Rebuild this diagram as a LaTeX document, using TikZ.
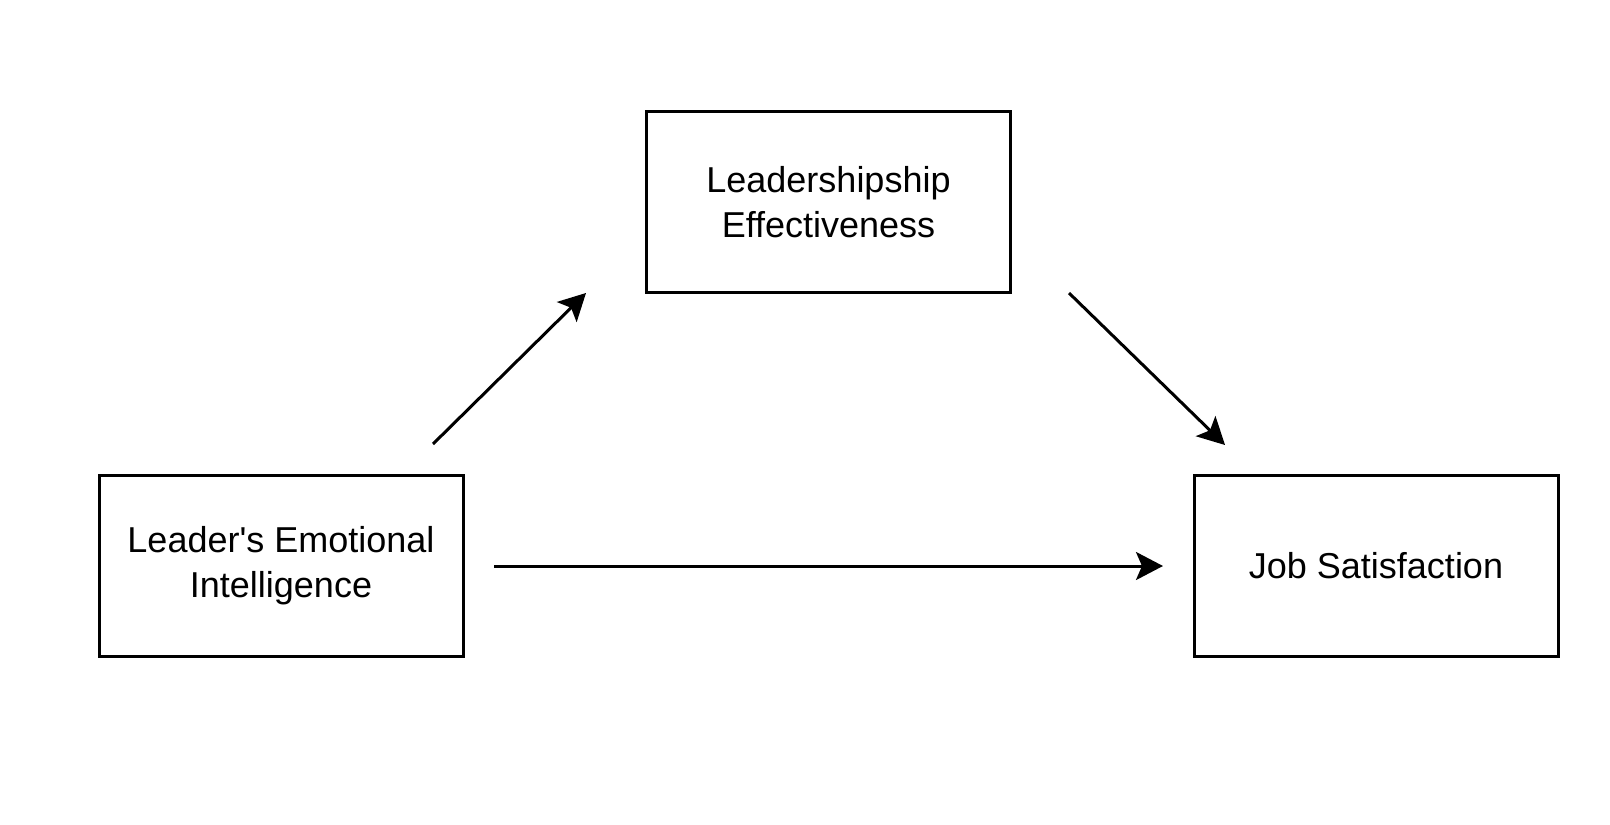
\documentclass[tikz,border=0pt]{standalone}
\usepackage{fontspec}
\setmainfont{Liberation Sans}
\newfontfamily\lsans{Liberation Sans}
\usetikzlibrary{arrows.meta}
\begin{document}
\begin{tikzpicture}[x=1pt,y=-1pt,
  box/.style={draw=black, line width=3pt, minimum width=364pt, minimum height=181pt,
    inner sep=0pt, align=center, font=\lsans\fontsize{36}{45}\selectfont},
  conn/.style={line width=3pt, -{Stealth[length=27pt,width=28pt,inset=6pt]}}]
\path[use as bounding box, fill=white] (0,0) rectangle (1610,825);
\node[box] (lei) at (281,565.5) {Leader's Emotional\\Intelligence};
\node[box] (le) at (828.5,202) {Leadershipship\\Effectiveness};
\node[box] (js) at (1376,565.5) {Job Satisfaction};
\coordinate (a1s) at (433,444);
\coordinate (a1e) at (586,293);
\coordinate (a2s) at (1069,293);
\coordinate (a2e) at (1225,445);
\coordinate (a3s) at (494,566);
\coordinate (a3e) at (1163,566);
\draw[conn] (a1s) -- (a1e);
\draw[conn] (a2s) -- (a2e);
\draw[conn] (a3s) -- (a3e);
\end{tikzpicture}
\end{document}
